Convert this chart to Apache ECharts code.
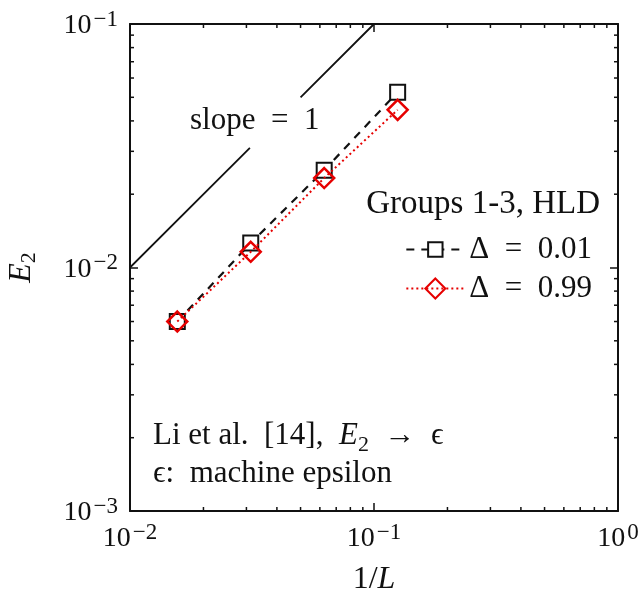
<!DOCTYPE html>
<html>
<head>
<meta charset="utf-8">
<script src="https://cdn.jsdelivr.net/npm/echarts@6/dist/echarts.min.js"></script>
<style>
  html, body { margin: 0; padding: 0; background: #fff; }
  #chart { width: 639px; height: 601px; }
</style>
</head>
<body>
<div id="chart"></div>
<script>
// Grid resolution 1/L and the L2 error E2 for two values of Delta
const invL = [1 / 64, 1 / 32, 1 / 16, 1 / 8];
const errDelta001 = [0.0060, 0.0126, 0.0251, 0.0525];
const errDelta099 = [0.0060, 0.0116, 0.0233, 0.0444];

// Reference slope-1 guide (broken where its label sits)
const slopeGuide = [[0.01, 0.01], [0.031, 0.031], null, [0.05, 0.05], [0.1, 0.1]];

// Axis ranges (decades)
const xRange = [0.01, 1];
const yRange = [0.001, 0.1];

const NAME_A = '\u0394\u2002=\u20020.01';
const NAME_B = '\u0394\u2002=\u20020.99';

const FONT = '"Liberation Serif", "DejaVu Serif", serif';
const TXT = 31;
const RED = '#e60000';
const INK = '#111';

// Minor tick values 2..9 x 10^k inside each decade
function minorTicks(lo, hi) {
  const out = [];
  for (let d = lo; d < hi - 1e-12; d *= 10) {
    for (let m = 2; m <= 9; m++) out.push(m * d);
  }
  return out;
}
const xMinor = minorTicks(xRange[0], xRange[1]);
const yMinor = minorTicks(yRange[0], yRange[1]);

function powLabel(v) {
  const e = Math.round(Math.log10(v));
  const s = e < 0 ? '\u2212' + (-e) : String(e);
  return '{b|10}{s|' + s + '}';
}
const labelRich = {
  b: { fontFamily: FONT, fontSize: 28, color: INK, verticalAlign: 'bottom', lineHeight: 32 },
  s: { fontFamily: FONT, fontSize: 23, color: INK, verticalAlign: 'top', padding: [0, 0, 12, 2], lineHeight: 32 }
};

const axisLine = { show: true, onZero: false, lineStyle: { color: INK, width: 2 } };
const majorTick = { show: true, inside: true, length: 8, lineStyle: { color: INK, width: 1.5 } };

const legendBase = {
  orient: 'vertical',
  right: 42,
  itemWidth: 58,
  textStyle: { fontFamily: FONT, fontSize: TXT, color: INK }
};

const chart = echarts.init(document.getElementById('chart'), null, { renderer: 'canvas' });

chart.setOption({
  backgroundColor: '#fff',
  animation: false,
  grid: { left: 130, top: 24, right: 21, bottom: 90, containLabel: false, outerBoundsMode: 'none' },
  xAxis: [
    {
      type: 'log', logBase: 10, min: xRange[0], max: xRange[1], position: 'bottom',
      axisLine, axisTick: majorTick, splitLine: { show: false },
      axisLabel: { formatter: powLabel, rich: labelRich, margin: 10 },
      name: '{n|1/}{i|L}', nameLocation: 'middle', nameGap: 53,
      nameTextStyle: {
        rich: {
          n: { fontFamily: FONT, fontSize: 32, color: INK },
          i: { fontFamily: FONT, fontSize: 32, fontStyle: 'italic', color: INK }
        }
      }
    },
    {
      type: 'log', logBase: 10, min: xRange[0], max: xRange[1], position: 'top',
      axisLine, axisTick: majorTick, axisLabel: { show: false }, splitLine: { show: false }
    }
  ],
  yAxis: [
    {
      type: 'log', logBase: 10, min: yRange[0], max: yRange[1], position: 'left',
      axisLine, axisTick: majorTick, splitLine: { show: false },
      axisLabel: { formatter: powLabel, rich: labelRich, margin: 12 },
      name: '{i|E}{s|2}', nameLocation: 'middle', nameGap: 90, nameRotate: 90,
      nameTextStyle: {
        rich: {
          i: { fontFamily: FONT, fontSize: 32, fontStyle: 'italic', color: INK, verticalAlign: 'top', lineHeight: 34 },
          s: { fontFamily: FONT, fontSize: 22, color: INK, verticalAlign: 'bottom', lineHeight: 34, padding: [12, 0, 0, 0] }
        }
      }
    },
    {
      type: 'log', logBase: 10, min: yRange[0], max: yRange[1], position: 'right',
      axisLine, axisTick: majorTick, axisLabel: { show: false }, splitLine: { show: false }
    }
  ],
  legend: [
    Object.assign({}, legendBase, { top: 229, itemHeight: 18, data: [NAME_A] }),
    Object.assign({}, legendBase, { top: 268, itemHeight: 25, data: [NAME_B] })
  ],
  graphic: [
    {
      type: 'text', right: 39, top: 188,
      style: { text: 'Groups 1-3, HLD', font: '33px ' + FONT, fill: INK }
    },
    {
      type: 'text', left: 190, top: 105,
      style: { text: 'slope\u2002=\u20021', font: TXT + 'px ' + FONT, fill: INK }
    },
    {
      type: 'text', left: 153, top: 420,
      style: {
        text: '{n|Li et al.\u2002[14],\u2002}{i|E}{s|2}{n|\u2002\u2192\u2002\u03f5}',
        rich: {
          n: { fontFamily: FONT, fontSize: TXT, fill: INK, verticalAlign: 'top', lineHeight: 36 },
          i: { fontFamily: FONT, fontSize: TXT, fontStyle: 'italic', fill: INK, verticalAlign: 'top', lineHeight: 36 },
          s: { fontFamily: FONT, fontSize: 22, fill: INK, verticalAlign: 'bottom', lineHeight: 36 }
        }
      }
    },
    {
      type: 'text', left: 153, top: 458,
      style: { text: '\u03f5:\u2002machine epsilon', font: TXT + 'px ' + FONT, fill: INK }
    }
  ],
  series: [
    {
      name: 'slope',
      type: 'line',
      data: slopeGuide,
      showSymbol: false,
      connectNulls: false,
      lineStyle: { color: INK, width: 1.8 },
      silent: true,
      z: 2
    },
    {
      name: NAME_A,
      type: 'line',
      data: invL.map((x, i) => [x, errDelta001[i]]),
      symbol: 'rect',
      symbolSize: 15,
      itemStyle: { color: '#fff', borderColor: INK, borderWidth: 2 },
      lineStyle: { color: INK, width: 2.2, type: [8, 7] },
      z: 3
    },
    {
      name: NAME_B,
      type: 'line',
      data: invL.map((x, i) => [x, errDelta099[i]]),
      symbol: 'diamond',
      symbolSize: 20,
      itemStyle: { color: 'rgba(255,255,255,0)', borderColor: RED, borderWidth: 2.5 },
      lineStyle: { color: RED, width: 2, type: [2, 3] },
      z: 4
    },
    {
      // minor ticks along bottom and top edges
      type: 'custom',
      silent: true,
      clip: false,
      data: xMinor.map(v => [v, yRange[0]]),
      renderItem: function (params, api) {
        const v = api.value(0);
        const b = api.coord([v, yRange[0]]);
        const t = api.coord([v, yRange[1]]);
        const st = { stroke: INK, lineWidth: 1.5 };
        return {
          type: 'group',
          children: [
            { type: 'line', shape: { x1: b[0], y1: b[1], x2: b[0], y2: b[1] - 4 }, style: st },
            { type: 'line', shape: { x1: t[0], y1: t[1], x2: t[0], y2: t[1] + 4 }, style: st }
          ]
        };
      },
      z: 5
    },
    {
      // minor ticks along left and right edges
      type: 'custom',
      silent: true,
      clip: false,
      data: yMinor.map(v => [xRange[0], v]),
      renderItem: function (params, api) {
        const v = api.value(1);
        const l = api.coord([xRange[0], v]);
        const r = api.coord([xRange[1], v]);
        const st = { stroke: INK, lineWidth: 1.5 };
        return {
          type: 'group',
          children: [
            { type: 'line', shape: { x1: l[0], y1: l[1], x2: l[0] + 4, y2: l[1] }, style: st },
            { type: 'line', shape: { x1: r[0], y1: r[1], x2: r[0] - 4, y2: r[1] }, style: st }
          ]
        };
      },
      z: 5
    }
  ]
});
</script>
</body>
</html>
